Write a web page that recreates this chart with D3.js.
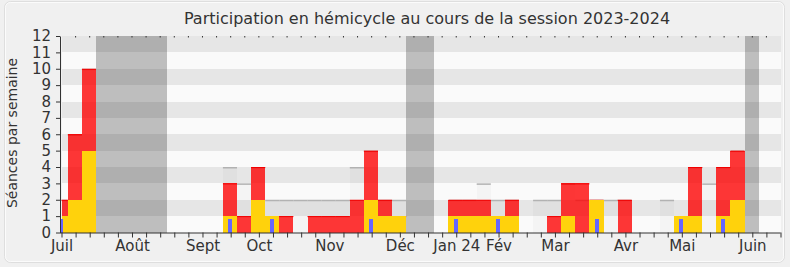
<!DOCTYPE html>
<html>
<head>
<meta charset="utf-8">
<script src="https://cdn.jsdelivr.net/npm/d3@7/dist/d3.min.js"></script>
<style>
    body { margin: 0; background: #f0f0f0; }
    svg { display: block; font-family: "DejaVu Sans", sans-serif; }
    .barres rect { shape-rendering: crispEdges; }
</style>
</head>
<body>
<div id="chart"></div>
<script>
var titre = 'Participation en hémicycle au cours de la session 2023-2024';
var titreAxeY = 'Séances par semaine';

// une valeur par semaine (la premiere et la derniere sont partielles)
var seances      = [2,6,10,0,0,0,0,0,0,0,0,0, 4,3,4,2,2,2,2,2,2,4,5,2,2, 0,0,0, 2,2,3,2,2, 0, 2,2,3,2,2,2,2, 0,0, 2,1,4,3,4,5, 0,0,0];
var presences    = [2,6,10,0,0,0,0,0,0,0,0,0, 3,1,4,1,1,0,1,1,1,2,5,2,1, 0,0,0, 2,2,2,1,2, 0, 0,1,3,3,2,0,2, 0,0, 0,1,4,0,4,5, 0,0,0];
var interventions= [1,2,5,0,0,0,0,0,0,0,0,0, 1,0,2,1,0,0,0,0,0,0,2,1,1, 0,0,0, 1,1,1,1,1, 0, 0,0,1,0,2,0,0, 0,0, 0,1,1,0,1,2, 0,0,0];
var questions    = [1,0,0,0,0,0,0,0,0,0,0,0, 1,0,0,1,0,0,0,0,0,0,1,0,0, 0,0,0, 1,0,0,1,0, 0, 0,0,0,0,1,0,0, 0,0, 0,1,0,0,1,0, 0,0,0];

// semaines de vacances parlementaires [debut, fin]
var vacances = [[3,7],[25,26],[49,49]];

var moisLabels   = ['Juil','Août','Sept','Oct','Nov','Déc','Jan 24','Fév','Mar','Avr','Mai','Juin'];
var moisSemaines = [0,5,10,14,19,24,28,31,35,40,44,49];

var W = 790, H = 267;
var nbTicks = 51;

var svg = d3.select('#chart').append('svg').attr('width', W).attr('height', H);

var x = d3.scaleLinear().domain([0, nbTicks]).range([61.5, 780.5]);
var y = d3.scaleLinear().domain([0, 12]).range([232.5, 36]);

function x0(j){ return x(Math.max(0, j - 0.55)); }
function x1(j){ return x(Math.min(nbTicks, j + 0.45)); }

// cadre
svg.append('rect').attr('x', 4.5).attr('y', 1.5).attr('width', 780).attr('height', 261)
    .attr('rx', 6).attr('fill', '#f0f0f0').attr('stroke', '#dedede');
svg.append('rect').attr('x', 5.5).attr('y', 2.5).attr('width', 778).attr('height', 259)
    .attr('rx', 5).attr('fill', 'none').attr('stroke', '#fbfbfb');

var fond = svg.append('g').attr('class', 'barres');

// bandes horizontales
fond.append('g').selectAll('rect').data(d3.range(12)).enter().append('rect')
    .attr('x', x(0)).attr('width', x(nbTicks) - x(0))
    .attr('y', function(k){ return y(k + 1); })
    .attr('height', function(k){ return y(k) - y(k + 1); })
    .attr('fill', function(k){ return k % 2 ? '#e6e6e6' : '#fafafa'; });

// vacances
fond.append('g').selectAll('rect').data(vacances).enter().append('rect')
    .attr('x', function(d){ return x0(d[0]); })
    .attr('width', function(d){ return x1(d[1]) - x0(d[0]); })
    .attr('y', y(12)).attr('height', y(0) - y(12))
    .attr('fill', 'rgba(0,0,0,0.24)');

var semaines = d3.range(seances.length);

// seances totales
var gs = svg.append('g').attr('class', 'barres');
gs.selectAll('rect').data(semaines.filter(function(j){ return seances[j] > 0; })).enter().append('rect')
    .attr('x', x0).attr('width', function(j){ return x1(j) - x0(j); })
    .attr('y', function(j){ return y(seances[j]); })
    .attr('height', function(j){ return y(0) - y(seances[j]); })
    .attr('fill', 'rgba(0,0,0,0.025)');
gs.selectAll('line').data(semaines.filter(function(j){ return seances[j] > 0; })).enter().append('line')
    .attr('x1', x0).attr('x2', x1)
    .attr('y1', function(j){ return y(seances[j]) + 0.75; })
    .attr('y2', function(j){ return y(seances[j]) + 0.75; })
    .attr('stroke', '#b2b2b2').attr('stroke-width', 1.5);

// presences
var gp = svg.append('g').attr('class', 'barres');
gp.selectAll('rect').data(semaines.filter(function(j){ return presences[j] > 0; })).enter().append('rect')
    .attr('x', x0).attr('width', function(j){ return x1(j) - x0(j); })
    .attr('y', function(j){ return y(presences[j]); })
    .attr('height', function(j){ return y(0) - y(presences[j]); })
    .attr('fill', 'rgba(255,0,0,0.78)');
gp.selectAll('line').data(semaines.filter(function(j){ return presences[j] > 0; })).enter().append('line')
    .attr('x1', x0).attr('x2', x1)
    .attr('y1', function(j){ return y(presences[j]) + 0.5; })
    .attr('y2', function(j){ return y(presences[j]) + 0.5; })
    .attr('stroke', '#f00000').attr('stroke-width', 1);

// interventions
svg.append('g').attr('class', 'barres').selectAll('rect')
    .data(semaines.filter(function(j){ return interventions[j] > 0; })).enter().append('rect')
    .attr('x', x0).attr('width', function(j){ return x1(j) - x0(j); })
    .attr('y', function(j){ return y(interventions[j]); })
    .attr('height', function(j){ return y(0) - y(interventions[j]); })
    .attr('fill', '#ffd20c');

// questions
svg.append('g').attr('class', 'barres').selectAll('rect')
    .data(semaines.filter(function(j){ return questions[j] > 0; })).enter().append('rect')
    .attr('x', function(j){ return Math.max(x(0) - 0.5, x(j - 0.05) - 2); })
    .attr('width', function(j){ return x(j - 0.05) + 2 - Math.max(x(0) - 0.5, x(j - 0.05) - 2); })
    .attr('y', function(j){ return y(questions[j]) + 3; })
    .attr('height', function(j){ return y(0) - y(questions[j]) - 3; })
    .attr('fill', '#6666ff');

// petits reperes en haut
svg.append('g').selectAll('line').data(d3.range(1, nbTicks)).enter().append('line')
    .attr('x1', function(t){ return x(t); }).attr('x2', function(t){ return x(t); })
    .attr('y1', y(12)).attr('y2', y(12) + 1.5)
    .attr('stroke', '#333');

// axes
var axeX = d3.axisBottom(x).tickValues(d3.range(nbTicks + 1)).tickSize(5).tickSizeOuter(0).tickPadding(2.5)
    .tickFormat(function(t){
        var i = moisSemaines.indexOf(t);
        return i >= 0 ? moisLabels[i] : '';
    });
var gx = svg.append('g').attr('transform', 'translate(0,' + y(0) + ')').call(axeX);
gx.select('.domain').attr('d', 'M60,0.5H' + x(nbTicks));

var axeY = d3.axisLeft(y).tickValues(d3.range(13)).tickSize(4).tickSizeOuter(0).tickPadding(5).tickFormat(d3.format('d'));
var gy = svg.append('g').attr('transform', 'translate(60,0)').call(axeY);

svg.selectAll('.domain, .tick line').attr('stroke', '#333');
svg.selectAll('.tick text').attr('fill', '#333').style('font-size', '15px')
    .style('font-family', '"DejaVu Sans", sans-serif');

// titres
svg.append('text').attr('x', 427).attr('y', 24).attr('text-anchor', 'middle')
    .attr('fill', '#333').style('font-size', '16px').text(titre);
svg.append('text').attr('transform', 'translate(17,133) rotate(-90)').attr('text-anchor', 'middle')
    .attr('fill', '#333').style('font-size', '14px').text(titreAxeY);
</script>
</body>
</html>
